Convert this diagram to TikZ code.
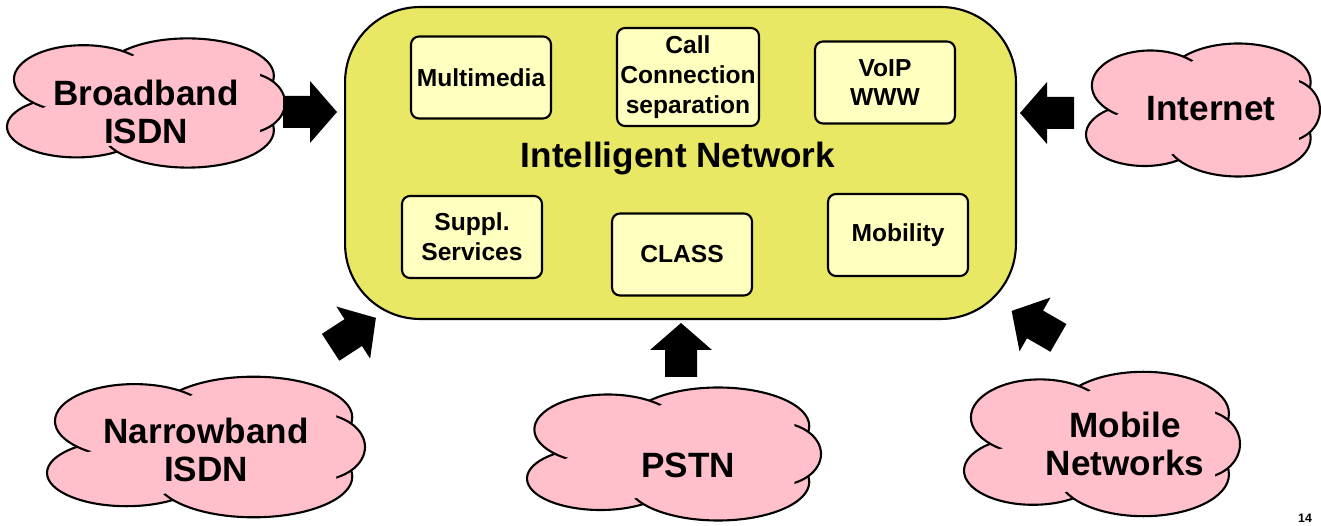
\documentclass[tikz,border=0pt]{standalone}
\usepackage{fontspec}
\setmainfont{Liberation Sans}

\definecolor{netyellow}{RGB}{232,232,100}
\definecolor{boxyellow}{RGB}{255,255,192}
\definecolor{cloudpink}{RGB}{255,192,203}

\tikzset{
  cloudline/.style={draw=black,fill=cloudpink,line width=1.2pt},
  cloudtext/.style={align=center,font=\fontsize{20}{22}\selectfont\bfseries},
  svcbox/.style={draw=black,fill=boxyellow,line width=1.2pt,rounded corners=0.16cm,
    minimum width=2.8cm,minimum height=1.64cm,align=center,inner sep=0pt,
    font=\fontsize{14}{17}\selectfont\bfseries},
}

\newcommand{\netcloud}[4]{%
\begin{scope}[shift={(#1,#2)},x=#3*0.02cm,y=-#4*0.02cm]
\filldraw[cloudline] (-0.5,0.35) ellipse [x radius=0.5,y radius=0.45];
\filldraw[cloudline] (0.3,-0.4) ellipse [x radius=0.62,y radius=0.55];
\filldraw[cloudline] (0.3,0.4) ellipse [x radius=0.62,y radius=0.55];
\filldraw[cloudline] (0.7,0) ellipse [x radius=0.3,y radius=0.45];
\filldraw[cloudline] (-0.45,-0.35) ellipse [x radius=0.5,y radius=0.5];
\fill[cloudpink] (-0.5,0.35) ellipse [x radius=0.4,y radius=0.35];
\fill[cloudpink] (0.3,-0.4) ellipse [x radius=0.52,y radius=0.45];
\fill[cloudpink] (0.3,0.4) ellipse [x radius=0.52,y radius=0.45];
\fill[cloudpink] (0.7,0) ellipse [x radius=0.2,y radius=0.35];
\fill[cloudpink] (-0.45,-0.35) ellipse [x radius=0.4,y radius=0.4];
\fill[cloudpink] (0.05,0) ellipse [x radius=0.7,y radius=0.6];
\end{scope}}

\newcommand{\blockarrow}[3]{%
\fill[shift={(#1,#2)},rotate=#3] (0,-16) -- (27,-16) -- (27,-31) -- (54,0) -- (27,31) -- (27,16) -- (0,16) -- cycle;}

\begin{document}
\begin{tikzpicture}[x=0.02cm,y=-0.02cm]
\useasboundingbox (0,0) rectangle (1321,526);

\node[draw=black,fill=netyellow,line width=1.2pt,rounded corners=1.5cm,
  minimum width=13.42cm,minimum height=6.24cm] (innet) at (680.5,163) {};
\node[cloudtext] (intitle) at (678,158) {Intelligent Network};

\node[svcbox] (multimedia) at (481,77.5) {Multimedia};
\node[svcbox,minimum width=2.84cm,minimum height=1.96cm] (callsep) at (688,77) {Call\\Connection\\separation};
\node[svcbox] (voip) at (885,82.5) {VoIP\\WWW};
\node[svcbox] (suppl) at (472,237) {Suppl.\\Services};
\node[svcbox] (class) at (682,254.5) {CLASS};
\node[svcbox] (mobility) at (898,235) {Mobility};

\netcloud{146}{103}{139}{68}
\node[cloudtext] (bisdn) at (146,112) {Broadband\\ISDN};
\netcloud{1203}{110}{117}{70}
\node[cloudtext] (internet) at (1211,109) {Internet};
\netcloud{206}{447}{159}{74}
\node[cloudtext] (nisdn) at (206,450) {Narrowband\\ISDN};
\netcloud{674}{454}{147}{70}
\node[cloudtext] (pstn) at (688,465) {PSTN};
\netcloud{1102}{444}{138}{76}
\node[cloudtext] (mobilenet) at (1125,444) {Mobile\\Networks};

\blockarrow{283}{112}{0}
\blockarrow{1074}{113}{180}
\blockarrow{681}{377}{90}
\blockarrow{330.6}{347.3}{33}
\blockarrow{1058.4}{337.9}{150}

\node[font=\fontsize{7}{8}\selectfont\bfseries] (pageno) at (1305,518) {14};
\end{tikzpicture}
\end{document}
